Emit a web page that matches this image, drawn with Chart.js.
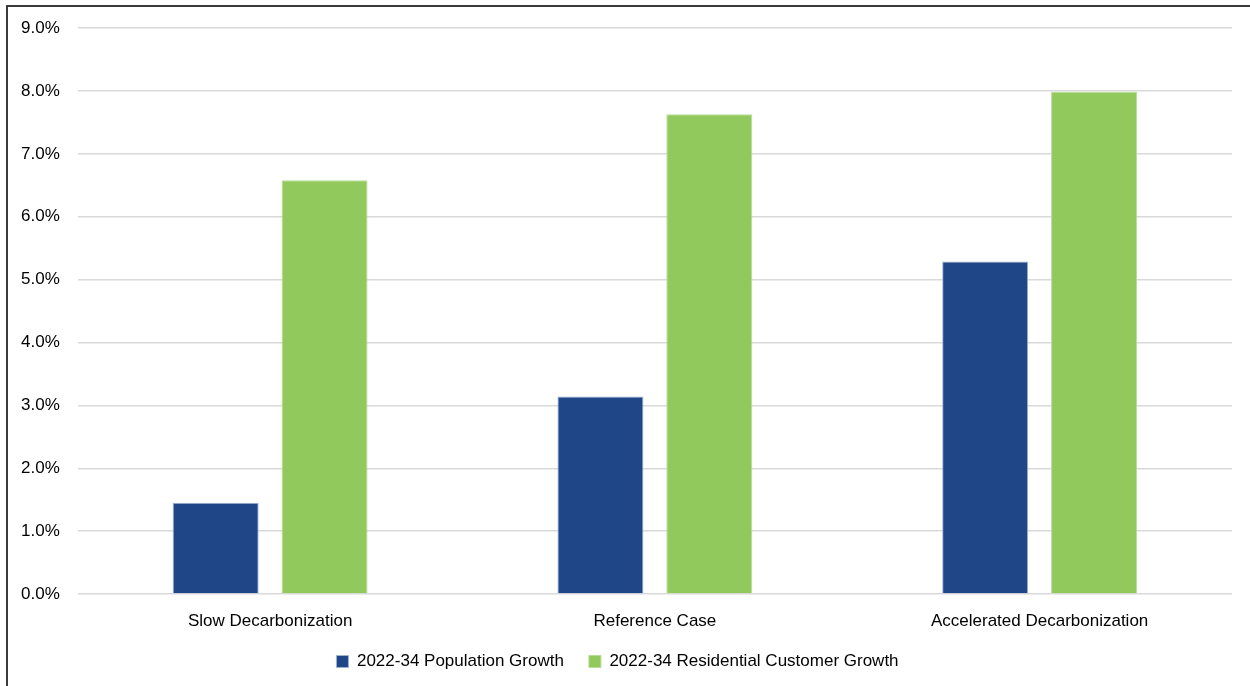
<!DOCTYPE html>
<html>
<head>
<meta charset="utf-8">
<script src="https://cdn.jsdelivr.net/npm/chart.js@4/dist/chart.umd.min.js"></script>
<style>
  html, body { margin: 0; padding: 0; background: #fff; overflow: hidden; }
  #wrap { position: absolute; left: 0; top: 0; width: 1250px; height: 686px; }
  #frame { position: absolute; left: 6px; top: 5px; width: 1260px; height: 700px;
           border-left: 2px solid #3a3a3a; border-top: 2px solid #3a3a3a; pointer-events: none; }
</style>
</head>
<body>
<div id="wrap"><canvas id="myChart" width="1250" height="686"></canvas></div>
<div id="frame"></div>
<script>
// chart data
const scenarios = ['Slow Decarbonization', 'Reference Case', 'Accelerated Decarbonization'];
const populationGrowth = [1.45, 3.14, 5.29];
const customerGrowth = [6.58, 7.63, 7.99];
const seriesNames = ['2022-34 Population Growth', '2022-34 Residential Customer Growth'];

Chart.defaults.font.family = '"Liberation Sans", Arial, sans-serif';
Chart.defaults.font.size = 17;
Chart.defaults.color = '#000';

const ctx = document.getElementById('myChart').getContext('2d');
const myChart = new Chart(ctx, {
    type: 'bar',
    data: {
        labels: scenarios,
        datasets: [{
            label: seriesNames[0],
            data: populationGrowth,
            backgroundColor: '#1f4788',
            borderColor: '#9fb3d1',
            borderWidth: 1,
            categoryPercentage: 0.566,
            barPercentage: 0.79
        }, {
            label: seriesNames[1],
            data: customerGrowth,
            backgroundColor: '#92c95c',
            borderColor: '#b8dc97',
            borderWidth: 1,
            categoryPercentage: 0.566,
            barPercentage: 0.79
        }]
    },
    options: {
        responsive: false,
        animation: false,
        layout: { padding: { left: 3, right: 18, top: 23, bottom: 6 } },
        plugins: {
            tooltip: { enabled: false },
            legend: {
                position: 'bottom',
                labels: {
                    boxWidth: 12,
                    boxHeight: 12,
                    padding: 25,
                    color: '#000'
                }
            }
        },
        scales: {
            x: {
                grid: { display: false, drawTicks: false },
                border: { display: false },
                ticks: { padding: 17 },
                // no extra space under the category labels
                afterFit: scale => { scale.height = 34; }
            },
            y: {
                min: 0,
                max: 9,
                ticks: {
                    stepSize: 1,
                    padding: 18,
                    callback: v => v.toFixed(1) + '%'
                },
                grid: { color: '#d9d9d9', lineWidth: 1.5, drawTicks: false },
                border: { display: false }
            }
        }
    }
});
</script>
</body>
</html>
